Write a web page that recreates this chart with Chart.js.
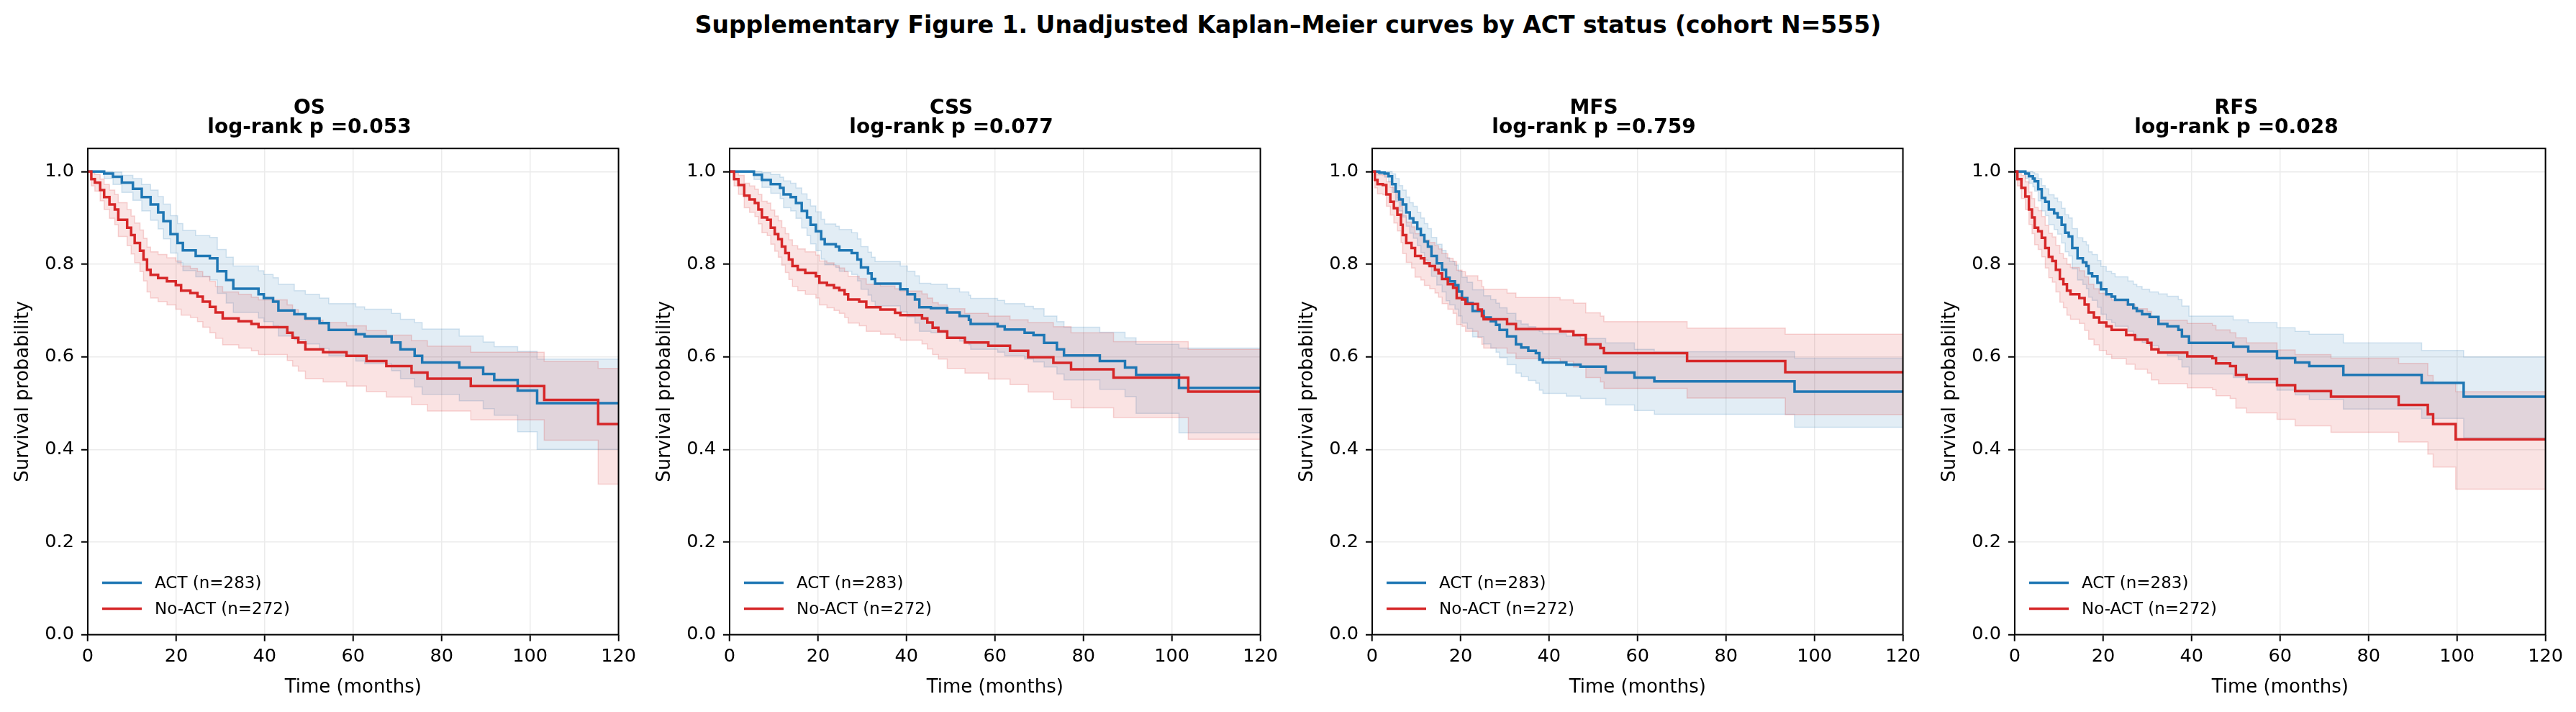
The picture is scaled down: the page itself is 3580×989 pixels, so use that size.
<!DOCTYPE html>
<html>
<head>
<meta charset="utf-8">
<title>Supplementary Figure 1</title>
<script src="https://cdn.jsdelivr.net/npm/chart.js@4.4.1/dist/chart.umd.min.js"></script>
<style>
  html, body { margin: 0; padding: 0; background: #fff; }
  #fig { position: relative; width: 3580px; height: 989px; overflow: hidden; background: #fff; }
  #suptitle {
    position: absolute; left: 0; top: 18px; width: 3580px;
    text-align: center; font: bold 33px "DejaVu Sans", sans-serif; line-height: 33px; color: #000;
  }
  canvas { position: absolute; top: 100px; }
</style>
</head>
<body>
<div id="fig">
  <div id="suptitle">Supplementary Figure 1. Unadjusted Kaplan–Meier curves by ACT status (cohort N=555)</div>
  <canvas id="km0" width="890" height="889" style="left:0px"></canvas>
  <canvas id="km1" width="890" height="889" style="left:892px"></canvas>
  <canvas id="km2" width="890" height="889" style="left:1785px"></canvas>
  <canvas id="km3" width="890" height="889" style="left:2678px"></canvas>
</div>
<script>
// panel labels
const endpoints = ["OS", "CSS", "MFS", "RFS"];
const logrankP = ["0.053", "0.077", "0.759", "0.028"];
const groupLabels = ["ACT (n=283)", "No-ACT (n=272)"];
const xTicks = [0, 20, 40, 60, 80, 100, 120];
const yTicks = [0.0, 0.2, 0.4, 0.6, 0.8, 1.0];

// OS - ACT
const osActT  = [0, 3.7, 5.7, 7.7, 10.2, 12.2, 14.2, 15.9, 17.1, 18.7, 20.3, 21.5, 24.4, 27.6, 29.3, 31.3, 32.9, 38.6, 39.8, 41.9, 43.1, 46.7, 49.2, 52.4, 54.5, 60.6, 62.6, 68.7, 70.7, 73.9, 75.6, 84.0, 89.4, 91.9, 97.2, 101.6];
const osActS  = [1, 0.996, 0.989, 0.976, 0.963, 0.945, 0.929, 0.912, 0.893, 0.865, 0.846, 0.830, 0.818, 0.813, 0.785, 0.766, 0.747, 0.735, 0.727, 0.719, 0.700, 0.692, 0.683, 0.673, 0.658, 0.649, 0.644, 0.631, 0.616, 0.602, 0.588, 0.577, 0.563, 0.550, 0.527, 0.500];
const osActLo = [1, 0.985, 0.972, 0.955, 0.938, 0.915, 0.895, 0.876, 0.855, 0.824, 0.803, 0.786, 0.773, 0.766, 0.737, 0.716, 0.696, 0.684, 0.676, 0.667, 0.645, 0.637, 0.628, 0.618, 0.602, 0.591, 0.585, 0.570, 0.553, 0.535, 0.519, 0.505, 0.488, 0.474, 0.438, 0.400];
const osActHi = [1, 1, 0.999, 0.992, 0.985, 0.972, 0.960, 0.946, 0.930, 0.905, 0.888, 0.873, 0.862, 0.858, 0.832, 0.815, 0.796, 0.786, 0.778, 0.771, 0.757, 0.743, 0.735, 0.727, 0.715, 0.708, 0.703, 0.694, 0.681, 0.674, 0.660, 0.645, 0.632, 0.622, 0.612, 0.595];
// OS - No-ACT
const osNoT  = [0, 0.8, 1.6, 2.8, 3.7, 4.9, 6.1, 6.9, 8.9, 9.8, 10.6, 11.8, 12.6, 13.4, 14.2, 15.9, 17.9, 19.9, 21.1, 23.2, 24.8, 26.0, 27.6, 28.9, 30.5, 34.1, 37.0, 38.6, 45.1, 46.3, 47.6, 49.2, 53.2, 58.5, 63.0, 67.5, 73.2, 76.8, 86.6, 103.2, 115.4];
const osNoS  = [1, 0.984, 0.976, 0.960, 0.945, 0.929, 0.918, 0.896, 0.879, 0.863, 0.846, 0.829, 0.810, 0.788, 0.777, 0.770, 0.763, 0.755, 0.743, 0.738, 0.730, 0.719, 0.708, 0.696, 0.683, 0.677, 0.671, 0.664, 0.652, 0.641, 0.631, 0.616, 0.610, 0.602, 0.591, 0.580, 0.566, 0.553, 0.537, 0.507, 0.455];
const osNoLo = [1, 0.969, 0.958, 0.937, 0.918, 0.899, 0.885, 0.860, 0.840, 0.822, 0.803, 0.784, 0.764, 0.740, 0.727, 0.719, 0.712, 0.703, 0.690, 0.685, 0.676, 0.664, 0.652, 0.640, 0.626, 0.619, 0.613, 0.605, 0.592, 0.580, 0.569, 0.553, 0.546, 0.537, 0.525, 0.513, 0.497, 0.483, 0.464, 0.420, 0.325];
const osNoHi = [1, 0.998, 0.994, 0.984, 0.972, 0.960, 0.951, 0.933, 0.918, 0.904, 0.889, 0.874, 0.856, 0.837, 0.827, 0.821, 0.814, 0.807, 0.796, 0.791, 0.784, 0.774, 0.763, 0.752, 0.740, 0.735, 0.729, 0.723, 0.712, 0.702, 0.693, 0.679, 0.674, 0.667, 0.657, 0.647, 0.635, 0.623, 0.610, 0.590, 0.575];

// CSS - ACT
const cssActT  = [0, 5.5, 7.3, 9.3, 11.4, 12.2, 13.8, 15.0, 16.3, 17.5, 18.3, 19.5, 20.7, 21.5, 24.0, 24.8, 27.6, 28.9, 29.7, 31.3, 32.1, 32.9, 38.6, 40.2, 41.9, 42.9, 45.5, 49.2, 52.0, 54.1, 54.5, 60.6, 62.2, 66.7, 68.7, 71.1, 74.0, 75.6, 83.7, 89.4, 91.9, 101.6];
const cssActS  = [1, 0.993, 0.982, 0.973, 0.965, 0.951, 0.945, 0.932, 0.915, 0.901, 0.885, 0.871, 0.854, 0.843, 0.838, 0.830, 0.824, 0.810, 0.793, 0.780, 0.768, 0.758, 0.746, 0.735, 0.724, 0.707, 0.705, 0.696, 0.688, 0.680, 0.671, 0.666, 0.659, 0.652, 0.647, 0.630, 0.616, 0.603, 0.591, 0.577, 0.561, 0.533];
const cssActLo = [1, 0.983, 0.966, 0.953, 0.942, 0.922, 0.915, 0.899, 0.878, 0.862, 0.844, 0.829, 0.811, 0.799, 0.793, 0.785, 0.778, 0.764, 0.746, 0.733, 0.720, 0.710, 0.697, 0.686, 0.673, 0.655, 0.652, 0.643, 0.634, 0.626, 0.616, 0.610, 0.602, 0.595, 0.589, 0.578, 0.563, 0.550, 0.530, 0.514, 0.478, 0.436];
const cssActHi = [1, 1, 0.998, 0.994, 0.988, 0.980, 0.975, 0.965, 0.952, 0.940, 0.926, 0.913, 0.897, 0.887, 0.882, 0.875, 0.868, 0.855, 0.838, 0.826, 0.815, 0.806, 0.796, 0.785, 0.775, 0.759, 0.757, 0.748, 0.740, 0.733, 0.726, 0.722, 0.715, 0.709, 0.704, 0.688, 0.676, 0.664, 0.653, 0.641, 0.627, 0.619];
// CSS - No-ACT
const cssNoT  = [0, 1.0, 2.0, 3.3, 4.5, 5.7, 6.5, 7.3, 8.5, 9.3, 10.2, 11.0, 11.8, 12.6, 13.4, 14.2, 15.4, 17.1, 19.5, 20.3, 22.0, 23.6, 24.8, 26.0, 26.8, 29.3, 30.9, 34.1, 37.4, 38.6, 43.5, 44.7, 45.9, 47.2, 49.2, 53.2, 58.5, 63.4, 67.5, 73.2, 77.2, 86.8, 103.7];
const cssNoS  = [1, 0.984, 0.971, 0.948, 0.940, 0.932, 0.918, 0.901, 0.896, 0.879, 0.865, 0.854, 0.838, 0.824, 0.810, 0.796, 0.788, 0.781, 0.774, 0.760, 0.755, 0.749, 0.744, 0.735, 0.724, 0.719, 0.707, 0.702, 0.695, 0.690, 0.683, 0.674, 0.663, 0.655, 0.641, 0.631, 0.624, 0.613, 0.599, 0.587, 0.573, 0.555, 0.525];
const cssNoLo = [1, 0.969, 0.951, 0.922, 0.912, 0.903, 0.887, 0.868, 0.862, 0.843, 0.828, 0.815, 0.798, 0.782, 0.767, 0.752, 0.743, 0.735, 0.727, 0.712, 0.706, 0.700, 0.694, 0.685, 0.673, 0.667, 0.655, 0.649, 0.641, 0.636, 0.628, 0.617, 0.605, 0.595, 0.575, 0.565, 0.552, 0.540, 0.524, 0.508, 0.490, 0.469, 0.422];
const cssNoHi = [1, 0.998, 0.992, 0.975, 0.969, 0.962, 0.951, 0.936, 0.932, 0.917, 0.904, 0.894, 0.879, 0.866, 0.853, 0.840, 0.833, 0.827, 0.820, 0.807, 0.803, 0.797, 0.792, 0.784, 0.774, 0.769, 0.757, 0.753, 0.747, 0.742, 0.736, 0.727, 0.717, 0.712, 0.704, 0.694, 0.688, 0.680, 0.674, 0.665, 0.652, 0.633, 0.616];

// MFS - ACT
const mfsActT  = [0, 1.6, 2.8, 3.7, 4.5, 5.3, 6.1, 6.9, 7.7, 8.5, 9.3, 10.2, 11.0, 11.8, 12.6, 13.4, 14.6, 15.8, 16.7, 17.5, 18.7, 19.5, 20.3, 21.5, 22.7, 25.2, 26.8, 28.0, 28.8, 30.5, 32.5, 33.7, 35.3, 37.0, 37.8, 38.6, 43.9, 47.1, 52.8, 59.3, 63.8, 95.5];
const mfsActS  = [1, 0.998, 0.996, 0.990, 0.973, 0.957, 0.940, 0.929, 0.912, 0.899, 0.890, 0.876, 0.863, 0.849, 0.838, 0.818, 0.802, 0.788, 0.771, 0.763, 0.755, 0.741, 0.727, 0.716, 0.699, 0.685, 0.677, 0.669, 0.658, 0.644, 0.627, 0.620, 0.613, 0.608, 0.594, 0.588, 0.583, 0.579, 0.566, 0.555, 0.547, 0.525];
const mfsActLo = [1, 0.994, 0.988, 0.978, 0.955, 0.935, 0.915, 0.902, 0.882, 0.867, 0.856, 0.840, 0.825, 0.809, 0.796, 0.774, 0.755, 0.740, 0.721, 0.712, 0.703, 0.688, 0.673, 0.661, 0.643, 0.628, 0.619, 0.610, 0.598, 0.583, 0.565, 0.557, 0.549, 0.543, 0.528, 0.521, 0.515, 0.510, 0.496, 0.484, 0.476, 0.448];
const mfsActHi = [1, 1, 1, 1, 0.995, 0.985, 0.970, 0.960, 0.945, 0.933, 0.925, 0.912, 0.900, 0.888, 0.877, 0.858, 0.843, 0.830, 0.814, 0.806, 0.798, 0.785, 0.772, 0.761, 0.745, 0.732, 0.724, 0.716, 0.706, 0.694, 0.678, 0.671, 0.665, 0.660, 0.655, 0.650, 0.645, 0.640, 0.630, 0.616, 0.611, 0.597];
// MFS - No-ACT
const mfsNoT  = [0, 0.6, 1.2, 2.4, 3.2, 4.1, 4.9, 5.7, 6.5, 6.9, 7.7, 8.9, 9.7, 11.0, 11.8, 13.0, 14.2, 15.0, 15.8, 17.1, 18.3, 19.1, 20.3, 21.1, 23.9, 24.8, 25.2, 30.5, 32.5, 42.5, 45.5, 48.3, 51.6, 52.4, 71.2, 93.4];
const mfsNoS  = [1, 0.982, 0.973, 0.971, 0.951, 0.935, 0.921, 0.907, 0.885, 0.863, 0.846, 0.835, 0.818, 0.813, 0.802, 0.796, 0.788, 0.780, 0.768, 0.757, 0.749, 0.727, 0.724, 0.714, 0.702, 0.688, 0.681, 0.671, 0.660, 0.655, 0.647, 0.627, 0.619, 0.608, 0.591, 0.567];
const mfsNoLo = [1, 0.965, 0.952, 0.950, 0.925, 0.906, 0.889, 0.872, 0.847, 0.823, 0.804, 0.792, 0.772, 0.766, 0.754, 0.747, 0.738, 0.729, 0.715, 0.703, 0.694, 0.670, 0.666, 0.655, 0.642, 0.627, 0.619, 0.608, 0.596, 0.590, 0.578, 0.555, 0.546, 0.532, 0.511, 0.475];
const mfsNoHi = [1, 0.998, 0.993, 0.992, 0.978, 0.966, 0.955, 0.944, 0.925, 0.906, 0.891, 0.881, 0.866, 0.862, 0.852, 0.847, 0.840, 0.833, 0.823, 0.813, 0.806, 0.787, 0.784, 0.775, 0.765, 0.752, 0.746, 0.738, 0.728, 0.723, 0.716, 0.695, 0.688, 0.676, 0.662, 0.649];

// RFS - ACT
const rfsActT  = [0, 2.4, 3.2, 4.1, 4.5, 5.3, 6.1, 6.9, 7.7, 8.9, 9.7, 10.6, 11.4, 12.2, 13.0, 14.2, 15.4, 16.2, 16.7, 17.5, 18.7, 19.5, 20.7, 21.9, 22.7, 25.6, 26.8, 27.6, 28.8, 30.5, 32.5, 34.5, 37.0, 37.8, 39.4, 49.4, 52.8, 59.3, 63.4, 66.6, 74.3, 92.0, 101.5];
const rfsActS  = [1, 0.996, 0.990, 0.985, 0.979, 0.962, 0.943, 0.935, 0.918, 0.910, 0.901, 0.885, 0.868, 0.860, 0.835, 0.813, 0.804, 0.796, 0.780, 0.774, 0.760, 0.746, 0.735, 0.730, 0.723, 0.713, 0.705, 0.699, 0.692, 0.686, 0.671, 0.666, 0.658, 0.644, 0.630, 0.622, 0.612, 0.597, 0.588, 0.580, 0.561, 0.544, 0.514];
const rfsActLo = [1, 0.985, 0.975, 0.967, 0.958, 0.937, 0.915, 0.905, 0.885, 0.875, 0.865, 0.846, 0.827, 0.818, 0.790, 0.766, 0.756, 0.747, 0.729, 0.722, 0.707, 0.692, 0.680, 0.674, 0.666, 0.655, 0.646, 0.639, 0.631, 0.624, 0.608, 0.602, 0.594, 0.578, 0.563, 0.555, 0.544, 0.528, 0.518, 0.508, 0.487, 0.467, 0.425];
const rfsActHi = [1, 1, 1, 0.998, 0.995, 0.985, 0.970, 0.963, 0.950, 0.943, 0.935, 0.921, 0.907, 0.900, 0.877, 0.857, 0.849, 0.842, 0.827, 0.821, 0.808, 0.795, 0.785, 0.780, 0.773, 0.764, 0.757, 0.752, 0.746, 0.740, 0.736, 0.731, 0.724, 0.710, 0.688, 0.680, 0.674, 0.663, 0.655, 0.649, 0.630, 0.614, 0.600];
// RFS - No-ACT
const rfsNoT  = [0, 0.6, 1.5, 2.4, 3.2, 3.9, 4.5, 5.3, 6.1, 6.9, 7.7, 8.5, 9.3, 10.2, 11.0, 11.8, 12.6, 14.6, 15.8, 16.7, 17.9, 19.1, 20.7, 21.9, 25.2, 27.2, 30.0, 30.9, 32.5, 39.0, 44.7, 45.5, 48.7, 50.0, 52.4, 59.3, 63.4, 71.5, 86.8, 93.4, 94.6, 99.7];
const rfsNoS  = [1, 0.984, 0.965, 0.946, 0.918, 0.901, 0.879, 0.871, 0.857, 0.835, 0.816, 0.807, 0.788, 0.768, 0.757, 0.743, 0.735, 0.727, 0.713, 0.696, 0.685, 0.674, 0.666, 0.658, 0.647, 0.637, 0.630, 0.616, 0.609, 0.601, 0.597, 0.586, 0.580, 0.561, 0.552, 0.539, 0.526, 0.514, 0.496, 0.476, 0.455, 0.422];
const rfsNoLo = [1, 0.969, 0.942, 0.918, 0.886, 0.866, 0.842, 0.832, 0.816, 0.792, 0.771, 0.761, 0.740, 0.718, 0.706, 0.690, 0.681, 0.672, 0.657, 0.638, 0.626, 0.614, 0.605, 0.596, 0.584, 0.573, 0.565, 0.550, 0.542, 0.533, 0.529, 0.516, 0.510, 0.489, 0.479, 0.465, 0.451, 0.437, 0.416, 0.390, 0.362, 0.314];
const rfsNoHi = [1, 0.998, 0.992, 0.978, 0.956, 0.942, 0.923, 0.916, 0.903, 0.884, 0.867, 0.859, 0.841, 0.823, 0.813, 0.800, 0.793, 0.786, 0.773, 0.757, 0.747, 0.737, 0.730, 0.723, 0.713, 0.704, 0.698, 0.686, 0.679, 0.672, 0.668, 0.658, 0.652, 0.641, 0.630, 0.615, 0.605, 0.597, 0.586, 0.560, 0.545, 0.525];

const panels = [
  { act: [osActT, osActS, osActLo, osActHi], no: [osNoT, osNoS, osNoLo, osNoHi] },
  { act: [cssActT, cssActS, cssActLo, cssActHi], no: [cssNoT, cssNoS, cssNoLo, cssNoHi] },
  { act: [mfsActT, mfsActS, mfsActLo, mfsActHi], no: [mfsNoT, mfsNoS, mfsNoLo, mfsNoHi] },
  { act: [rfsActT, rfsActS, rfsActLo, rfsActHi], no: [rfsNoT, rfsNoS, rfsNoLo, rfsNoHi] },
];

const blue = "#1f77b4";
const red = "#d62728";

Chart.defaults.font.family = '"DejaVu Sans", sans-serif';
Chart.defaults.color = "#000";

// step points, carried on to the end of the time axis
function steps(t, v) {
  const pts = t.map(function (x, i) { return { x: x, y: v[i] }; });
  pts.push({ x: xTicks[xTicks.length - 1], y: v[v.length - 1] });
  return pts;
}

function curve(label, color, row, t, s) {
  return {
    label: label, data: steps(t, s), borderColor: color, borderWidth: 3.5,
    pointRadius: 0, stepped: true, fill: false, legendRow: row,
  };
}

function band(t, v, edge, shade, fill) {
  return {
    data: steps(t, v), borderColor: edge, borderWidth: 1.5, backgroundColor: shade,
    pointRadius: 0, stepped: true, fill: fill,
  };
}

// box round the plot area
const frame = {
  id: "frame",
  afterDatasetsDraw(chart) {
    const a = chart.chartArea;
    const ctx = chart.ctx;
    ctx.save();
    ctx.strokeStyle = "#000";
    ctx.lineWidth = 2;
    ctx.strokeRect(a.left, a.top, a.right - a.left, a.bottom - a.top);
    ctx.restore();
  },
};

// legend in the lower left corner, no frame
const insideLegend = {
  id: "insideLegend",
  afterDraw(chart) {
    const a = chart.chartArea;
    const ctx = chart.ctx;
    const items = chart.data.datasets
      .filter(function (d) { return d.legendRow !== undefined; })
      .sort(function (p, q) { return p.legendRow - q.legendRow; });
    ctx.save();
    ctx.font = '23px "DejaVu Sans", sans-serif';
    ctx.textBaseline = "middle";
    ctx.fillStyle = "#000";
    items.forEach(function (d, i) {
      const y = a.bottom - 72 + i * 36;
      ctx.strokeStyle = d.borderColor;
      ctx.lineWidth = 3.5;
      ctx.beginPath();
      ctx.moveTo(a.left + 20, y);
      ctx.lineTo(a.left + 75, y);
      ctx.stroke();
      ctx.fillText(d.label, a.left + 93, y + 1);
    });
    ctx.restore();
  },
};

panels.forEach(function (p, i) {
  const a = p.act, n = p.no;
  const ctx = document.getElementById("km" + i).getContext("2d");
  new Chart(ctx, {
    type: "line",
    data: {
      datasets: [
        curve(groupLabels[1], red, 1, n[0], n[1]),
        curve(groupLabels[0], blue, 0, a[0], a[1]),
        band(n[0], n[3], "rgba(214, 39, 40, .18)", "rgba(214, 39, 40, .13)", "+1"),
        band(n[0], n[2], "rgba(214, 39, 40, .18)", "rgba(214, 39, 40, .13)", false),
        band(a[0], a[3], "rgba(31, 119, 180, .18)", "rgba(31, 119, 180, .13)", "+1"),
        band(a[0], a[2], "rgba(31, 119, 180, .18)", "rgba(31, 119, 180, .13)", false),
      ],
    },
    options: {
      responsive: false,
      animation: false,
      devicePixelRatio: 1,
      layout: { padding: { left: 0, right: 30, top: 0, bottom: 0 } },
      plugins: {
        legend: { display: false },
        tooltip: { enabled: false },
        title: {
          display: true,
          text: [endpoints[i], "log-rank p =" + logrankP[i]],
          font: { size: 28, weight: "bold", lineHeight: 0.95 },
          color: "#000",
          padding: { top: 37.5, bottom: 15.5 },
        },
      },
      scales: {
        x: {
          type: "linear",
          min: xTicks[0],
          max: xTicks[xTicks.length - 1],
          afterBuildTicks: function (s) { s.ticks = xTicks.map(function (v) { return { value: v }; }); },
          afterFit: function (s) { s.height = 107.4; },
          grid: { color: "#ebebeb", lineWidth: 1.5, drawTicks: true, tickLength: 9, tickColor: "#000", tickWidth: 2 },
          border: { display: false },
          ticks: { font: { size: 25.6 }, color: "#000", padding: 6, maxRotation: 0, autoSkip: false },
          title: { display: true, text: "Time (months)", font: { size: 26 }, color: "#000", padding: { top: 0, bottom: 18 } },
        },
        y: {
          min: 0,
          max: 1.05,
          afterBuildTicks: function (s) { s.ticks = yTicks.map(function (v) { return { value: v }; }); },
          afterFit: function (s) { s.width = 122; },
          grid: { color: "#ebebeb", lineWidth: 1.5, drawTicks: true, tickLength: 9, tickColor: "#000", tickWidth: 2 },
          border: { display: false },
          ticks: { font: { size: 25.6 }, color: "#000", padding: 10, callback: function (v) { return v.toFixed(1); } },
          title: { display: true, text: "Survival probability", font: { size: 26 }, color: "#000", padding: { top: 17, bottom: 0 } },
        },
      },
    },
    plugins: [frame, insideLegend],
  });
});
</script>
</body>
</html>
